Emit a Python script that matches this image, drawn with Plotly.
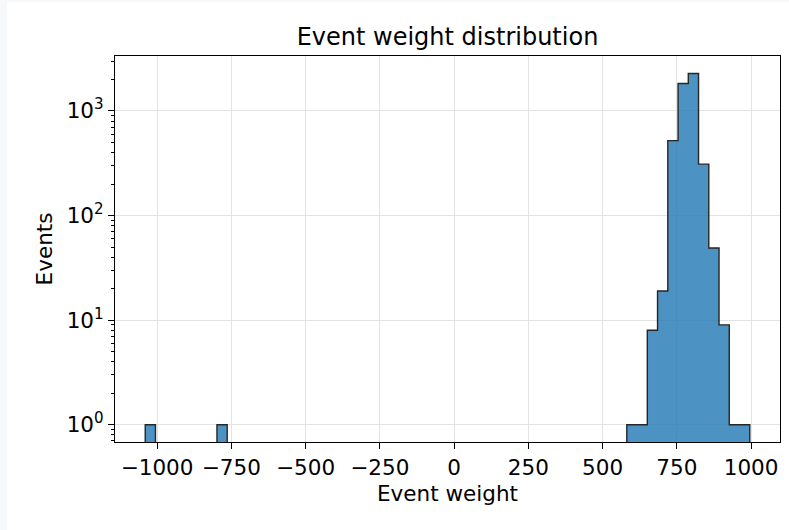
import plotly.graph_objects as go

# Histogram data (only non-empty bins listed; all other bins are zero)
bin_width = 34.5
bin_left = [-1040, -798.5, 581.5, 616, 650.5, 685, 719.5, 754, 788.5, 823, 857.5, 892, 926.5, 961]
counts = [1, 1, 1, 1, 8, 19, 520, 1830, 2280, 310, 49, 9, 1, 1]

x_ticks = [-1000, -750, -500, -250, 0, 250, 500, 750, 1000]
x_tick_text = ["\u22121000", "\u2212750", "\u2212500", "\u2212250", "0", "250", "500", "750", "1000"]
y_ticks = [1, 10, 100, 1000]
y_tick_text = ["10<sup>0</sup>", "10<sup>1</sup>", "10<sup>2</sup>", "10<sup>3</sup>"]

FLOOR = 0.3  # below visible range; stands for zero on a log axis

# Build step outline polygons for contiguous runs of bins
xs, ys = [], []
i = 0
n = len(bin_left)
while i < n:
    j = i
    while j + 1 < n and abs(bin_left[j + 1] - (bin_left[j] + bin_width)) < 1e-6:
        j += 1
    xs.append(bin_left[i]); ys.append(FLOOR)
    for k in range(i, j + 1):
        xs += [bin_left[k], bin_left[k] + bin_width]
        ys += [counts[k], counts[k]]
    xs.append(bin_left[j] + bin_width); ys.append(FLOOR)
    xs.append(bin_left[i]); ys.append(FLOOR)
    xs.append(None); ys.append(None)
    i = j + 1

fig = go.Figure()
fig.add_trace(go.Scatter(
    x=xs, y=ys, mode="lines", fill="toself",
    fillcolor="rgba(31,119,180,0.8)",
    line=dict(color="#262626", width=1.4),
    hoverinfo="skip", showlegend=False,
))

FONT = "DejaVu Sans, Liberation Sans, sans-serif"
data_min = bin_left[0]
data_max = bin_left[-1] + bin_width
pad = 0.05 * (data_max - data_min)

fig.update_layout(
    width=789, height=530,
    margin=dict(l=115, r=9, t=56, b=88),
    paper_bgcolor="#f7f8fa",
    plot_bgcolor="white",
    font=dict(family=FONT, color="black", size=21),
    title=dict(text="Event weight distribution", x=0.5, xref="paper", xanchor="center",
               y=1 - 37 / 530, yanchor="middle", font=dict(size=24, color="black")),
    shapes=[dict(type="rect", xref="paper", yref="paper", layer="below",
                 x0=(7 - 115) / 665, x1=(789 - 115) / 665 + 0.01,
                 y0=-(88 + 5) / 386, y1=1 + (56 - 2) / 386,
                 fillcolor="white", line=dict(width=0))],
    xaxis=dict(
        range=[data_min - pad, data_max + pad],
        tickmode="array", tickvals=x_ticks, ticktext=x_tick_text,
        ticks="outside", ticklen=6, tickwidth=1.2, tickcolor="black",
        showline=True, linecolor="black", linewidth=1.2, mirror=True,
        showgrid=True, gridcolor="#e3e3e3", gridwidth=1,
        zeroline=False,
        tickfont=dict(size=21.5),
        title=dict(text="Event weight", font=dict(size=21.5), standoff=7),
    ),
    yaxis=dict(
        type="log", range=[-0.165, 3.525],
        tickmode="array", tickvals=y_ticks, ticktext=y_tick_text,
        ticks="outside", ticklen=6, tickwidth=1.2, tickcolor="black",
        minor=dict(ticks="outside", ticklen=3, tickcolor="black", tickwidth=1,
                   dtick="D1", showgrid=False),
        showline=True, linecolor="black", linewidth=1.2, mirror=True,
        showgrid=True, gridcolor="#e3e3e3", gridwidth=1,
        zeroline=False,
        tickfont=dict(size=21.5),
        title=dict(text="Events", font=dict(size=21.5), standoff=8),
    ),
)

fig.write_html("out.html", config={"displayModeBar": False},
               post_script="document.body.style.margin='0px';")
